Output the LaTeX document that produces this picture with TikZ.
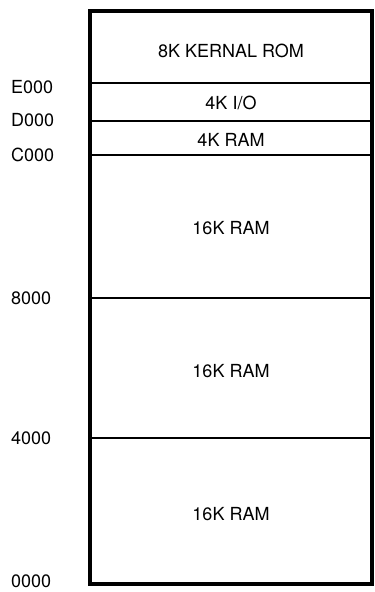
\documentclass[tikz,border=0pt]{standalone}
\usepackage{fontspec}
\setmainfont{TeX Gyre Heros}
\begin{document}
\begin{tikzpicture}[x=1pt,y=-1pt,
  region/.style={font=\fontsize{18}{20}\selectfont, inner sep=0pt},
  addr/.style={font=\fontsize{18}{20}\selectfont, anchor=west, inner sep=0pt},
  divider/.style={line width=2.2pt},
  thindiv/.style={line width=1.6pt},
  frame/.style={line width=3.4pt}]
\useasboundingbox (0,0) rectangle (375,592);
% corners and divider ends
\coordinate (tl) at (90,11);
\coordinate (br) at (372,584);
\coordinate (e0L) at (90,83);  \coordinate (e0R) at (372,83);
\coordinate (d0L) at (90,121); \coordinate (d0R) at (372,121);
\coordinate (c0L) at (90,155); \coordinate (c0R) at (372,155);
\coordinate (p8L) at (90,298); \coordinate (p8R) at (372,298);
\coordinate (p4L) at (90,438); \coordinate (p4R) at (372,438);
% dividers
\draw[divider] (e0L) -- (e0R);
\draw[divider] (d0L) -- (d0R);
\draw[divider] (c0L) -- (c0R);
\draw[thindiv] (p8L) -- (p8R);
\draw[thindiv] (p4L) -- (p4R);
\draw[frame] (tl) rectangle (br);
% region texts
\node[region] (rom)  at (231,51)  {8K KERNAL ROM};
\node[region] (io)   at (231,103) {4K I/O};
\node[region] (ram4) at (231,140) {4K RAM};
\node[region] (ramc) at (231,228) {16K RAM};
\node[region] (ram8) at (231,371) {16K RAM};
\node[region] (ram0) at (231,514) {16K RAM};
% address labels
\node[addr] (aE) at (11,87)  {E000};
\node[addr] (aD) at (11,120) {D000};
\node[addr] (aC) at (11,155) {C000};
\node[addr] (a8) at (11,298) {8000};
\node[addr] (a4) at (11,438) {4000};
\node[addr] (a0) at (11,581) {0000};
\end{tikzpicture}
\end{document}
